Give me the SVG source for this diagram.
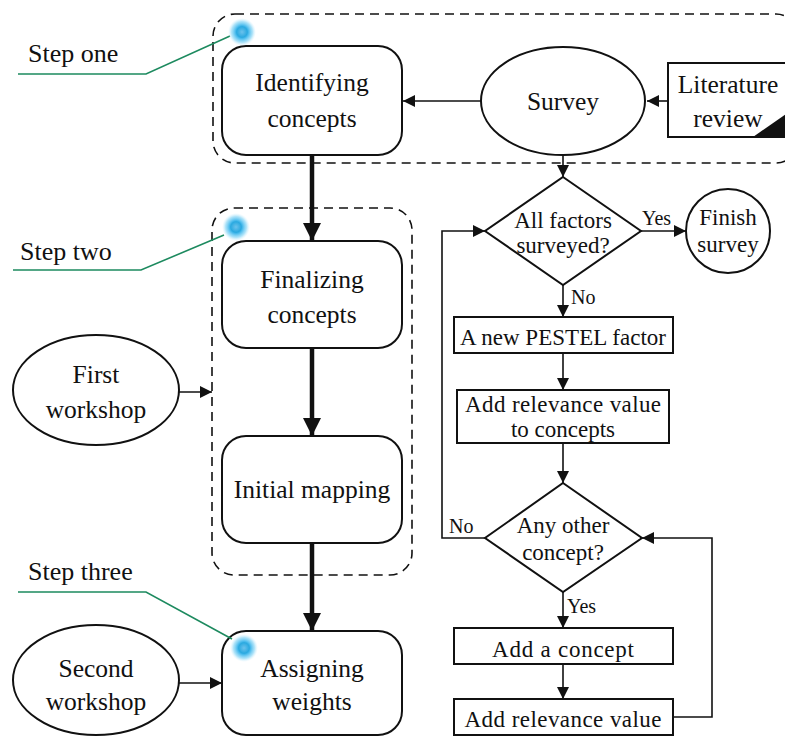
<svg xmlns="http://www.w3.org/2000/svg" width="785" height="738" viewBox="0 0 785 738" font-family="'Liberation Serif', Tinos, 'Times New Roman', 'DejaVu Serif', serif">
  <style>
    text { font-family: 'Liberation Serif', Tinos, 'Times New Roman', 'DejaVu Serif', serif; fill: #111; }
    .main { font-size: 25.5px; text-anchor: middle; }
    .side { font-size: 23px; text-anchor: middle; }
    .lbl { font-size: 20px; }
    .step { font-size: 26px; }
    .node { fill: #fff; stroke: #111; stroke-width: 2; }
    .group { fill: none; stroke: #111; stroke-width: 1.6; stroke-dasharray: 9 6; }
    .thin { fill: none; stroke: #111; stroke-width: 1.6; }
    .thick { fill: none; stroke: #111; stroke-width: 4.5; }
    .callout { fill: none; stroke: #1d8a5f; stroke-width: 1.6; }
  </style>
  <defs>
    <marker id="arrS" viewBox="0 0 10 10" refX="10" refY="5" markerWidth="12" markerHeight="12" markerUnits="userSpaceOnUse" orient="auto">
      <path d="M0,0 L10,5 L0,10 z" fill="#111"/>
    </marker>
    <marker id="arrB" viewBox="0 0 10 10" refX="10" refY="5" markerWidth="18" markerHeight="18" markerUnits="userSpaceOnUse" orient="auto">
      <path d="M0,0 L10,5 L0,10 z" fill="#111"/>
    </marker>
    <radialGradient id="glow">
      <stop offset="0" stop-color="#6cc2ec"/>
      <stop offset="0.38" stop-color="#2aa9e0"/>
      <stop offset="0.5" stop-color="#55c0ef"/>
      <stop offset="0.75" stop-color="#9adcf7" stop-opacity="0.8"/>
      <stop offset="1" stop-color="#d4f1fd" stop-opacity="0"/>
    </radialGradient>
  </defs>

  <!-- dashed step groupings -->
  <g id="groups">
    <rect class="group" x="213" y="14" width="585" height="149" rx="22"/>
    <rect class="group" x="212" y="208" width="200" height="367" rx="22"/>
  </g>

  <!-- connectors -->
  <g id="connectors">
    <line class="thin" x1="668" y1="101" x2="647" y2="101" marker-end="url(#arrS)"/>
    <line class="thin" x1="481" y1="101" x2="403" y2="101" marker-end="url(#arrS)"/>
    <line class="thin" x1="563" y1="155" x2="563" y2="177" marker-end="url(#arrS)"/>
    <line class="thick" x1="312" y1="155" x2="312" y2="241" marker-end="url(#arrB)"/>
    <line class="thick" x1="312" y1="348" x2="312" y2="436" marker-end="url(#arrB)"/>
    <line class="thick" x1="312" y1="543" x2="312" y2="631" marker-end="url(#arrB)"/>
    <line class="thin" x1="178" y1="392" x2="212" y2="392" marker-end="url(#arrS)"/>
    <line class="thin" x1="178" y1="683" x2="222" y2="683" marker-end="url(#arrS)"/>
    <line class="thin" x1="641" y1="231" x2="686" y2="231" marker-end="url(#arrS)"/>
    <line class="thin" x1="563" y1="285" x2="563" y2="317" marker-end="url(#arrS)"/>
    <line class="thin" x1="563" y1="353" x2="563" y2="390" marker-end="url(#arrS)"/>
    <line class="thin" x1="563" y1="443" x2="563" y2="483" marker-end="url(#arrS)"/>
    <line class="thin" x1="563" y1="592" x2="563" y2="628" marker-end="url(#arrS)"/>
    <line class="thin" x1="563" y1="664" x2="563" y2="699" marker-end="url(#arrS)"/>
    <polyline class="thin" points="485,538 442,538 442,231 485,231" marker-end="url(#arrS)"/>
    <polyline class="thin" points="673,717 712,717 712,538 642,538" marker-end="url(#arrS)"/>
    <text class="lbl" x="642" y="225">Yes</text>
    <text class="lbl" x="571" y="304">No</text>
    <text class="lbl" x="449" y="533">No</text>
    <text class="lbl" x="567" y="613">Yes</text>
  </g>

  <!-- main steps -->
  <g id="identifying">
    <rect class="node" x="222" y="46" width="180" height="109" rx="24"/>
    <text class="main" x="312" y="91">Identifying</text>
    <text class="main" x="312" y="127">concepts</text>
  </g>
  <g id="finalizing">
    <rect class="node" x="222" y="241" width="180" height="107" rx="24"/>
    <text class="main" x="312" y="288">Finalizing</text>
    <text class="main" x="312" y="323">concepts</text>
  </g>
  <g id="initial-mapping">
    <rect class="node" x="222" y="436" width="180" height="107" rx="24"/>
    <text class="main" x="312" y="498">Initial mapping</text>
  </g>
  <g id="assigning">
    <rect class="node" x="222" y="631" width="180" height="104" rx="24"/>
    <text class="main" x="312" y="677">Assigning</text>
    <text class="main" x="312" y="710">weights</text>
  </g>
  <g id="first-workshop">
    <ellipse class="node" cx="96" cy="390" rx="83" ry="55"/>
    <text class="main" x="96" y="383">First</text>
    <text class="main" x="96" y="418">workshop</text>
  </g>
  <g id="second-workshop">
    <ellipse class="node" cx="96" cy="680" rx="83" ry="55"/>
    <text class="main" x="96" y="677">Second</text>
    <text class="main" x="96" y="710">workshop</text>
  </g>
  <g id="survey">
    <ellipse class="node" cx="563" cy="101" rx="82" ry="54"/>
    <text class="main" x="563" y="110">Survey</text>
  </g>
  <g id="literature-review">
    <rect class="node" x="668" y="63" width="130" height="74"/>
    <polygon points="753,137 786,137 786,114" fill="#111"/>
    <text class="main" x="728" y="93">Literature</text>
    <text class="main" x="728" y="127">review</text>
  </g>

  <!-- survey loop -->
  <g id="all-factors">
    <polygon class="node" points="563,177 641,231 563,285 485,231"/>
    <text class="side" x="563" y="228">All factors</text>
    <text class="side" x="563" y="253">surveyed?</text>
  </g>
  <g id="finish-survey">
    <circle class="node" cx="728" cy="231" r="42"/>
    <text class="side" x="728" y="225">Finish</text>
    <text class="side" x="728" y="252">survey</text>
  </g>
  <g id="new-factor">
    <rect class="node" x="454" y="317" width="219" height="36"/>
    <text class="side" x="563" y="345" textLength="206">A new PESTEL factor</text>
  </g>
  <g id="add-to-concepts">
    <rect class="node" x="457" y="390" width="212" height="53"/>
    <text class="side" x="563" y="412" textLength="196">Add relevance value</text>
    <text class="side" x="563" y="437">to concepts</text>
  </g>
  <g id="any-other">
    <polygon class="node" points="563,483 642,538 563,592 485,538"/>
    <text class="side" x="563" y="533">Any other</text>
    <text class="side" x="563" y="560">concept?</text>
  </g>
  <g id="add-concept">
    <rect class="node" x="454" y="628" width="219" height="36"/>
    <text class="side" x="563" y="657" textLength="142">Add a concept</text>
  </g>
  <g id="add-value">
    <rect class="node" x="454" y="699" width="219" height="36"/>
    <text class="side" x="563" y="727" textLength="197">Add relevance value</text>
  </g>

  <!-- step callouts -->
  <g id="step-one">
    <polyline class="callout" points="18,74 146,74 230,36"/>
    <circle cx="242" cy="32" r="14" fill="url(#glow)"/>
    <text class="step" x="28" y="62">Step one</text>
  </g>
  <g id="step-two">
    <polyline class="callout" points="13,270 141,270 224,235"/>
    <circle cx="236" cy="227" r="14" fill="url(#glow)"/>
    <text class="step" x="20" y="260">Step two</text>
  </g>
  <g id="step-three">
    <polyline class="callout" points="18,592 146,592 232,639"/>
    <circle cx="244" cy="648" r="14" fill="url(#glow)"/>
    <text class="step" x="28" y="580">Step three</text>
  </g>
</svg>
